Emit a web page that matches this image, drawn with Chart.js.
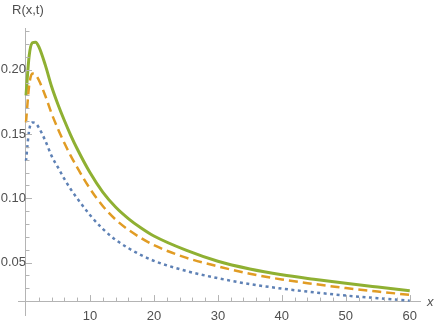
<!DOCTYPE html>
<html>
<head>
<meta charset="utf-8">
<script src="https://cdn.jsdelivr.net/npm/chart.js@4.4.1/dist/chart.umd.min.js"></script>
<style>
  html, body { margin: 0; padding: 0; background: #fff; }
</style>
</head>
<body>
<canvas id="chart" width="436" height="327"></canvas>
<script>
// valores
const xs = [0, 0.5, 1, 1.5, 2, 3, 4, 5, 6, 7, 8, 10, 12, 14, 16, 18, 20, 25, 30, 35, 40, 45, 50, 55, 60]
const serieAzul = [0.129, 0.153, 0.159, 0.1585, 0.155, 0.145, 0.133, 0.124, 0.115, 0.107, 0.100, 0.087, 0.0762, 0.0677, 0.0612, 0.0558, 0.0513, 0.0435, 0.0378, 0.0332, 0.0297, 0.0268, 0.0243, 0.0222, 0.0203]
const serieLaranja = [0.159, 0.188, 0.197, 0.196, 0.192, 0.180, 0.166, 0.154, 0.143, 0.133, 0.124, 0.1075, 0.094, 0.0835, 0.0755, 0.069, 0.0635, 0.0538, 0.047, 0.0413, 0.0368, 0.0333, 0.0301, 0.0274, 0.0248]
const serieVerde = [0.180, 0.211, 0.221, 0.2215, 0.218, 0.204, 0.187, 0.173, 0.1605, 0.149, 0.1385, 0.120, 0.1048, 0.0932, 0.0842, 0.0768, 0.0706, 0.0596, 0.0510, 0.0450, 0.0405, 0.0370, 0.0338, 0.0309, 0.0281]

const xTicks = [10, 20, 30, 40, 50, 60]
const xMinor = [2, 4, 6, 8, 12, 14, 16, 18, 22, 24, 26, 28, 32, 34, 36, 38, 42, 44, 46, 48, 52, 54, 56, 58]
const yTicks = [0.05, 0.10, 0.15, 0.20]
const yMinor = [0.03, 0.04, 0.06, 0.07, 0.08, 0.09, 0.11, 0.12, 0.13, 0.14, 0.16, 0.17, 0.18, 0.19, 0.21, 0.22, 0.23]
const tituloX = "x"
const tituloY = "R(x,t)"

const corEixo = "#b4b4b4"
const corTexto = "#505050"
const fonte = "'Liberation Sans', Arial, sans-serif"

function pontos(ys) {
  return xs.map((x, i) => ({ x: x, y: ys[i] }))
}

// marcas dos eixos (para dentro, como no Mathematica) e títulos
const marcasEixos = {
  id: "marcasEixos",
  afterDraw(chart) {
    const ctx = chart.ctx
    const sx = chart.scales.x
    const sy = chart.scales.y
    const y0 = sy.getPixelForValue(0.02)
    const x0 = sx.getPixelForValue(0)
    ctx.save()
    ctx.strokeStyle = corEixo
    ctx.lineWidth = 1
    ctx.beginPath()
    xTicks.forEach((v) => {
      const px = Math.round(sx.getPixelForValue(v)) + 0.5
      ctx.moveTo(px, y0); ctx.lineTo(px, y0 - 6)
    })
    xMinor.forEach((v) => {
      const px = Math.round(sx.getPixelForValue(v)) + 0.5
      ctx.moveTo(px, y0); ctx.lineTo(px, y0 - 3.5)
    })
    yTicks.forEach((v) => {
      const py = Math.round(sy.getPixelForValue(v)) + 0.5
      ctx.moveTo(x0, py); ctx.lineTo(x0 + 6, py)
    })
    yMinor.forEach((v) => {
      const py = Math.round(sy.getPixelForValue(v)) + 0.5
      ctx.moveTo(x0, py); ctx.lineTo(x0 + 3.5, py)
    })
    ctx.stroke()

    ctx.fillStyle = corTexto
    ctx.font = "13px " + fonte
    ctx.textBaseline = "middle"
    ctx.textAlign = "left"
    ctx.fillText(tituloY, 12, 10)
    ctx.font = "italic 13px " + fonte
    ctx.fillText(tituloX, chart.chartArea.right + 7, y0 + 1)
    ctx.restore()
  },
}

new Chart(document.getElementById("chart"), {
  type: "line",
  data: {
    datasets: [
      {
        data: pontos(serieAzul),
        borderColor: "#5E81B5",
        borderWidth: 2.5,
        borderDash: [3, 3.5],
        pointRadius: 0,
        cubicInterpolationMode: "monotone",
      },
      {
        data: pontos(serieLaranja),
        borderColor: "#E19C24",
        borderWidth: 2.5,
        borderDash: [9, 5],
        pointRadius: 0,
        cubicInterpolationMode: "monotone",
      },
      {
        data: pontos(serieVerde),
        borderColor: "#8FB032",
        borderWidth: 3,
        pointRadius: 0,
        cubicInterpolationMode: "monotone",
      },
    ],
  },
  options: {
    responsive: false,
    animation: false,
    layout: { padding: { left: 18, right: 16, top: 28, bottom: 10 } },
    plugins: {
      legend: { display: false },
      tooltip: { enabled: false },
    },
    scales: {
      x: {
        type: "linear",
        min: -1.25,
        max: 61.6,
        position: { y: 0.02 },
        grid: { display: false, drawTicks: false },
        border: { color: corEixo, width: 1 },
        afterBuildTicks: (s) => { s.ticks = xTicks.map((v) => ({ value: v })) },
        ticks: {
          color: corTexto,
          font: { family: fonte, size: 13 },
          padding: 8,
          maxRotation: 0,
          autoSkip: false,
          callback: (v) => String(v),
        },
      },
      y: {
        type: "linear",
        min: 0.009,
        max: 0.2325,
        position: { x: 0 },
        grid: { display: false, drawTicks: false },
        border: { color: corEixo, width: 1 },
        afterBuildTicks: (s) => { s.ticks = yTicks.map((v) => ({ value: v })) },
        ticks: {
          color: corTexto,
          font: { family: fonte, size: 13 },
          padding: 4,
          autoSkip: false,
          callback: (v) => v.toFixed(2),
        },
      },
    },
  },
  plugins: [marcasEixos],
})
</script>
</body>
</html>
